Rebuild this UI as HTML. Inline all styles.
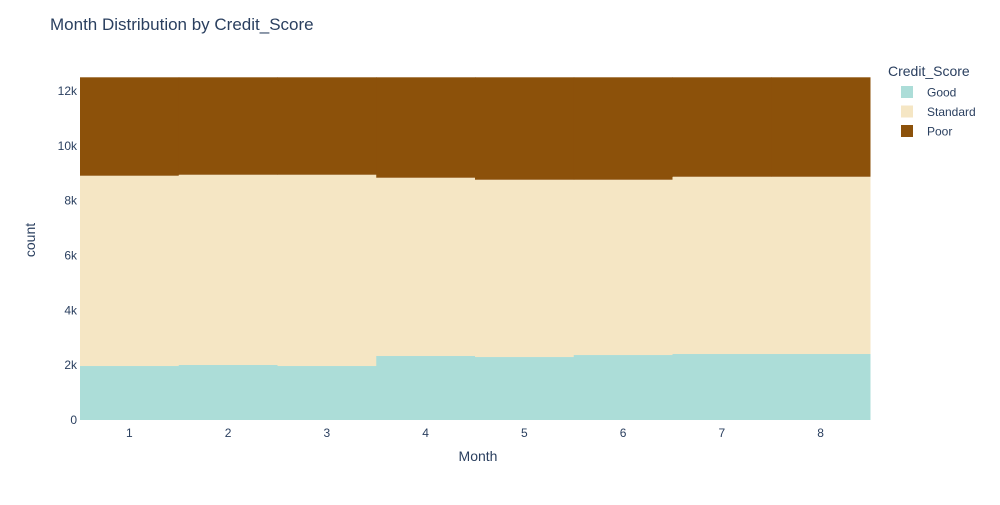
<!DOCTYPE html>
<html><head><meta charset="utf-8"><style>
body{margin:0;background:#fff;font-family:"Liberation Sans",sans-serif}
text{font-family:"Liberation Sans",sans-serif;fill:#2a3f5f}
</style></head><body>
<svg id="c" width="1000" height="500">
<text x="50" y="30" font-size="17" fill="#2a3f5f">Month Distribution by Credit_Score</text>
<g id="plot"></g>
<g id="yt"></g><g id="xt"></g>
<text x="478" y="461" font-size="14" text-anchor="middle">Month</text>
<text transform="translate(35,240) rotate(-90)" font-size="14" text-anchor="middle">count</text>
<g id="legend"></g>
</svg>
<script>
const months=[1,2,3,4,5,6,7,8];
const good=[1969,2006,1969,2334,2297,2370,2407,2407];
const standard=[6941,6940,6977,6503,6467,6394,6466,6466];
const poor=[3590,3554,3554,3663,3736,3736,3627,3627];
const yTicks=[0,2000,4000,6000,8000,10000,12000];
const yTickLabels=["0","2k","4k","6k","8k","10k","12k"];
const seriesNames=["Good","Standard","Poor"];
const colors=["#acddd8","#f5e6c4","#8c510a"];
const ns="http://www.w3.org/2000/svg";
const X0=80,X1=870,Y0=420,yMax=12500,YT=77.3;
const bw=(X1-X0)/months.length;
const xs=i=>X0+i*bw;
const ys=v=>Y0-v*(Y0-YT)/yMax;
function mk(t,a,p){const e=document.createElementNS(ns,t);for(const k in a)e.setAttribute(k,a[k]);p.appendChild(e);return e;}
const plot=document.getElementById('plot');
const data=[good,standard,poor];
months.forEach((m,i)=>{let base=0;data.forEach((s,j)=>{
const r=mk('rect',{x:xs(i),y:ys(base+s[i]),width:bw+0.5,height:ys(base)-ys(base+s[i]),fill:colors[j]},plot);


base+=s[i];});});
const yt=document.getElementById('yt');
yTicks.forEach((v,i)=>{const t=mk('text',{x:X0-3,y:ys(v)+4,'font-size':12,'text-anchor':'end'},yt);t.textContent=yTickLabels[i];

});
const xt=document.getElementById('xt');
months.forEach((m,i)=>{const t=mk('text',{x:xs(i)+bw/2,y:Y0+17,'font-size':12,'text-anchor':'middle'},xt);t.textContent=m;

});
const lg=document.getElementById('legend');
const lt=mk('text',{x:888,y:76,'font-size':14},lg);lt.textContent="Credit_Score";


seriesNames.forEach((n,j)=>{const g=mk('g',{},lg);


const y=92+j*19.5;mk('rect',{x:901,y:y-6,width:12,height:12,fill:colors[j]},g);
const t=mk('text',{x:927,y:y+4.5,'font-size':12},g);t.textContent=n;});
</script>
</body></html>
